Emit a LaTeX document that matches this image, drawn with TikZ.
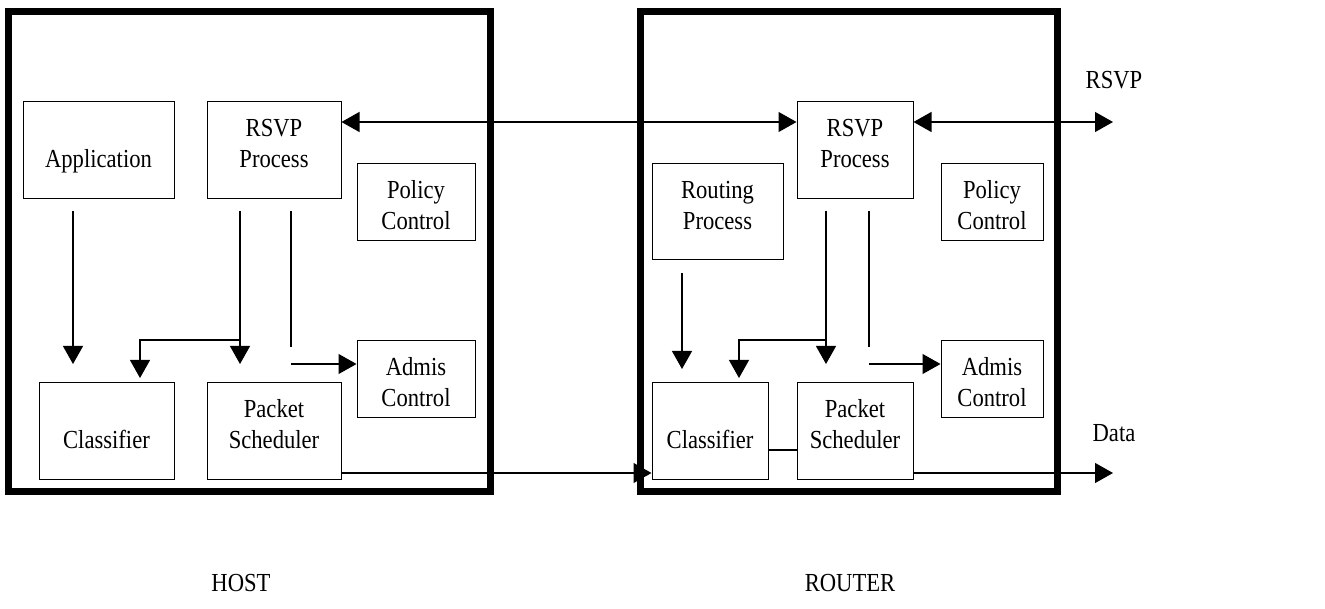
\documentclass[tikz,border=0pt]{standalone}
\usepackage{fontspec}
\setmainfont[FakeStretch=0.87]{Liberation Serif}
\usetikzlibrary{arrows.meta,calc}
\begin{document}
\begin{tikzpicture}[x=1pt,y=-1pt,
  box/.style={draw,line width=1pt,inner sep=0pt},
  txt/.style={inner sep=0pt,align=center,anchor=north,yshift=-13pt,font=\fontsize{26}{31}\selectfont},
  frame/.style={draw,line width=7pt},
  conn/.style={line width=1.2pt},
  arr/.style={conn,-{Triangle[length=18pt,width=20pt]}},
  biarr/.style={conn,{Triangle[length=18pt,width=20pt]}-{Triangle[length=18pt,width=20pt]}},
  lab/.style={font=\fontsize{26}{30}\selectfont,inner sep=0pt}]
\useasboundingbox (0,0) rectangle (1325,609);
% frames
\draw[frame] (8,12) rectangle (490,491);
\draw[frame] (640,12) rectangle (1057,491);
% host boxes
\node[box,minimum width=151,minimum height=97,label={[txt]north:\strut\\Application}] (app) at (98.5,150.5) {};
\node[box,minimum width=134,minimum height=97,label={[txt]north:\strut RSVP\\Process}] (hrsvp) at (274,150.5) {};
\node[box,minimum width=118,minimum height=77,label={[txt]north:\strut Policy\\Control}] (hpol) at (416,202.5) {};
\node[box,minimum width=118,minimum height=76,label={[txt]north:\strut Admis\\Control}] (hadm) at (416,379) {};
\node[box,minimum width=135,minimum height=96,label={[txt]north:\strut\\Classifier}] (hcls) at (106.5,431) {};
\node[box,minimum width=134,minimum height=96,label={[txt]north:\strut Packet\\Scheduler}] (hps) at (274,431) {};
% router boxes
\node[box,minimum width=116,minimum height=97,label={[txt]north:\strut RSVP\\Process}] (rrsvp) at (855,150.5) {};
\node[box,minimum width=131,minimum height=96,label={[txt]north:\strut Routing\\Process}] (rrout) at (717.5,212) {};
\node[box,minimum width=102,minimum height=77,label={[txt]north:\strut Policy\\Control}] (rpol) at (992,202.5) {};
\node[box,minimum width=102,minimum height=76,label={[txt]north:\strut Admis\\Control}] (radm) at (992,379) {};
\node[box,minimum width=116,minimum height=96,label={[txt]north:\strut\\Classifier}] (rcls) at (710,431) {};
\node[box,minimum width=116,minimum height=96,label={[txt]north:\strut Packet\\Scheduler}] (rps) at (855,431) {};
% labels
\node[lab] (lrsvp) at (1114,80) {RSVP};
\node[lab] (ldata) at (1114,433) {Data};
\node[lab] (lhost) at (241,583) {HOST};
\node[lab] (lrouter) at (850,583) {ROUTER};
% helper coordinates
\coordinate (ry) at (0,122);
\coordinate (dy) at (0,473);
\coordinate (ay) at (0,364);
\coordinate (cy) at (0,450);
\coordinate (rsvpout) at (1113,122);
\coordinate (dataout) at (1113,473);
% host connectors
\coordinate (a1) at (73,211); \coordinate (a2) at (73,364);
\draw[arr] (a1) -- (a2);
\coordinate (h1) at (240,211); \coordinate (h2) at (240,364); \coordinate (hb) at (240,340); \coordinate (hc) at (140,378);
\draw[arr] (h1) -- (h2);
\draw[arr] (hb) -| (hc);
\coordinate (hp1) at (291,211); \coordinate (hp2) at (291,347); \coordinate (hp3) at (291,364);
\draw[conn] (hp1) -- (hp2);
\draw[arr] (hp3) -- (hadm.west |- ay);
\draw[biarr] (hrsvp.east |- ry) -- (rrsvp.west |- ry);
\draw[arr] (hps.east |- dy) -- (rcls.west |- dy);
% router connectors
\coordinate (r1) at (682,273); \coordinate (r2) at (682,369);
\draw[arr] (r1) -- (r2);
\coordinate (s1) at (826,211); \coordinate (s2) at (826,364); \coordinate (sb) at (826,340); \coordinate (sc) at (739,378);
\draw[arr] (s1) -- (s2);
\draw[arr] (sb) -| (sc);
\coordinate (rp1) at (869,211); \coordinate (rp2) at (869,347); \coordinate (rp3) at (869,364);
\draw[conn] (rp1) -- (rp2);
\draw[arr] (rp3) -- (radm.west |- ay);
\draw[conn] (rcls.east |- cy) -- (rps.west |- cy);
\draw[biarr] (rrsvp.east |- ry) -- (rsvpout);
\draw[arr] (rps.east |- dy) -- (dataout);
\end{tikzpicture}
\end{document}
